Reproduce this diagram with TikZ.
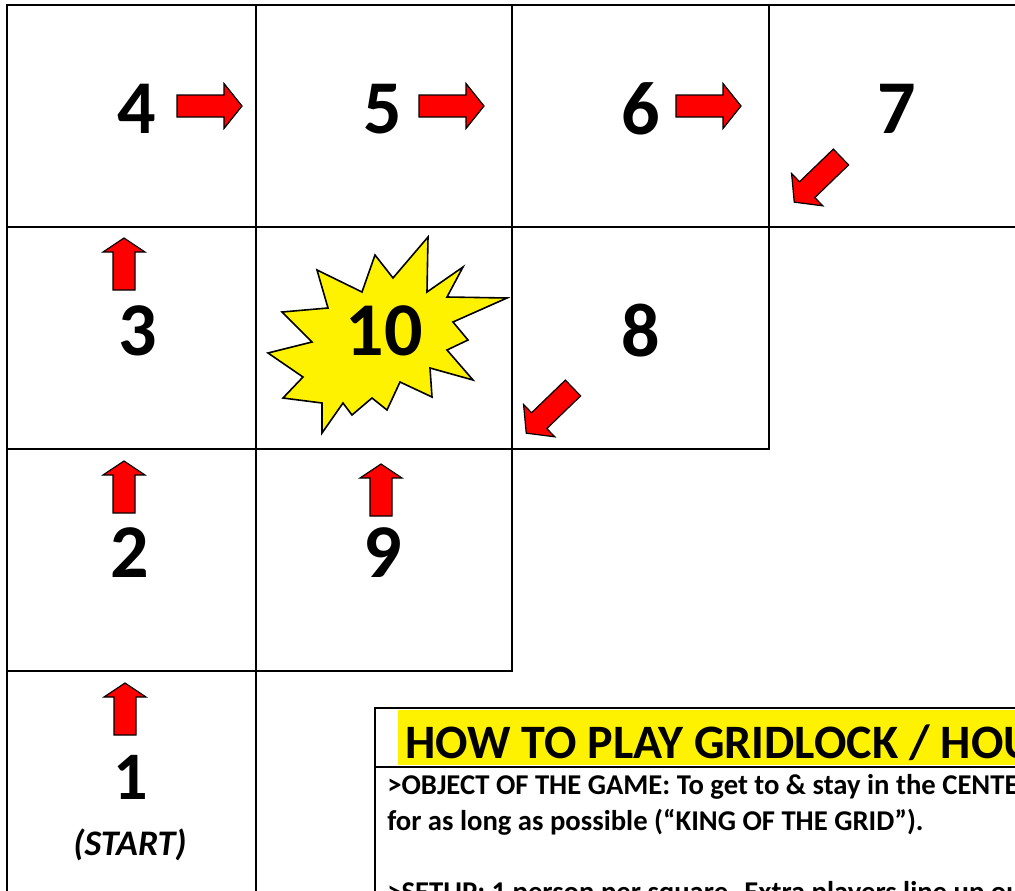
\documentclass[tikz,border=0pt]{standalone}
\usepackage{fontspec}
\setmainfont{Carlito}
\usepackage{tikz}
\usetikzlibrary{calc, positioning}

\begin{document}
\begin{tikzpicture}[x=0.75pt, y=-0.75pt,
    gridline/.style={line width=2.1pt, line join=miter},
    cellnum/.style={font=\fontsize{57}{57}\selectfont\bfseries, inner sep=0pt},
    ruletext/.style={anchor=base west, inner sep=0pt, font=\fontsize{21.5}{24}\selectfont\bfseries},
    arrowbody/.style={fill=red, draw=black, line width=0.9pt, line join=miter},
    longarrow/.pic={\draw[arrowbody] (0,-11) -- (47,-11) -- (47,-22.5) -- (65,0)
        -- (47,22.5) -- (47,11) -- (0,11) -- cycle;},
    shortarrow/.pic={\draw[arrowbody] (0,-11) -- (38,-11) -- (38,-21) -- (52,0)
        -- (38,21) -- (38,11) -- (0,11) -- cycle;}]

    % =================================================================
    % 1. KHUNG HINH VA VUNG CAT
    % =================================================================
    \useasboundingbox (0,0) rectangle (1015,890);
    \clip (0,0) rectangle (1015,890);

    % =================================================================
    % 2. CAC O CUA LUOI
    % =================================================================
    \draw[gridline] (1020,5) -- (7,5) -- (7,895);
    \draw[gridline] (7,227) -- (1020,227);
    \draw[gridline] (7,449) -- (769,449) -- (769,5);
    \draw[gridline] (7,671) -- (512,671) -- (512,5);
    \draw[gridline] (256,5) -- (256,895);

    % =================================================================
    % 3. NGOI SAO O GIUA (O SO 10)
    % =================================================================
    \draw[fill=yellow, line width=1.2pt, line join=miter]
        (428,237) -- (427,292) -- (463,267) -- (447,297) -- (507,298)
        -- (453,322) -- (468,340) -- (447,350) -- (473,380) -- (430,368)
        -- (432,397) -- (400,382) -- (387,410) -- (372,398) -- (352,415)
        -- (343,403) -- (322,433) -- (322,403) -- (283,398) -- (303,377)
        -- (268,353) -- (312,342) -- (282,312) -- (328,308) -- (317,270)
        -- (362,292) -- (375,255) -- (393,278) -- cycle;

    % =================================================================
    % 4. SO THU TU CAC O
    % =================================================================
    \node[cellnum] (n4) at (137,109) {4};
    \node[cellnum] (n5) at (383,109) {5};
    \node[cellnum] (n6) at (641,109) {6};
    \node[cellnum] (n7) at (897,109) {7};
    \node[cellnum] (n3) at (138,331) {3};
    \node[cellnum] (n10) at (384,331) {10};
    \node[cellnum] (n8) at (641,331) {8};
    \node[cellnum] (n2) at (130,553) {2};
    \node[cellnum] (n9) at (383,553) {9};
    \node[cellnum, font=\fontsize{51}{51}\selectfont\bfseries] (n1) at (131,777) {1};
    \node[font=\fontsize{27}{27}\selectfont\bfseries\itshape, anchor=base, inner sep=0pt]
        (start) at (130,855) {(START)};

    % =================================================================
    % 5. MUI TEN CHI HUONG DI CHUYEN
    % =================================================================
    \pic at (177,106) {longarrow};
    \pic at (419,106) {longarrow};
    \pic at (676,106) {longarrow};
    \pic[rotate=224] at (841,157) {longarrow};
    \pic[rotate=224] at (573,388) {longarrow};
    \pic[rotate=90] at (124,290) {shortarrow};
    \pic[rotate=90] at (124,513) {shortarrow};
    \pic[rotate=90] at (125,735) {shortarrow};
    \pic[rotate=90] at (381,516) {shortarrow};

    % =================================================================
    % 6. HOP HUONG DAN CACH CHOI
    % =================================================================
    \draw[line width=1.5pt, fill=white] (375,708) rectangle (1025,900);
    \draw[line width=1.5pt] (375,767) -- (1025,767);
    \fill[yellow] (398,710) rectangle (1020,765);
    \node[anchor=base west, inner sep=0pt, font=\fontsize{36}{40}\selectfont\bfseries]
        (title) at (405,758) {HOW TO PLAY GRIDLOCK / HOU};
    \node[ruletext] (rule1) at (387,794) {>OBJECT OF THE GAME: To get to \& stay in the CENTE};
    \node[ruletext] (rule2) at (387,830) {for as long as possible (“KING OF THE GRID”).};
    \node[ruletext] (rule3) at (387,901) {>SETUP: 1 person per square. Extra players line up ou};

\end{tikzpicture}
\end{document}
